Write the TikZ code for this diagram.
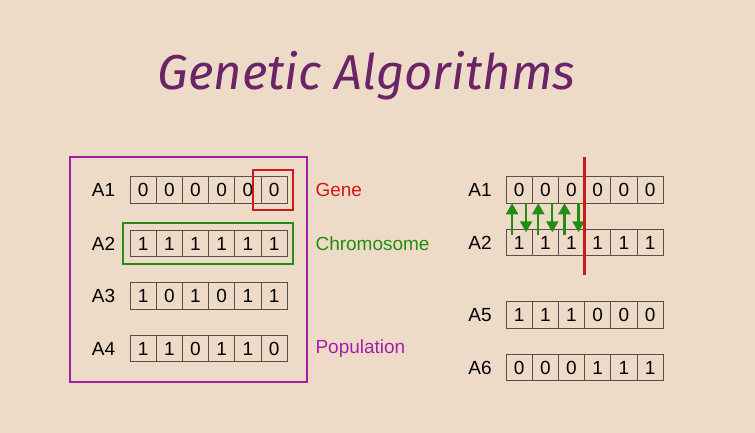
\documentclass[tikz,border=0pt]{standalone}
\usepackage{fontspec}
\setmainfont{Liberation Sans}
\newfontfamily\titlefont{Fira Sans}
\usetikzlibrary{arrows.meta}

\definecolor{bgtan}{RGB}{238,219,199}
\definecolor{titleplum}{RGB}{107,36,102}
\definecolor{popviolet}{RGB}{165,30,170}
\definecolor{genered}{RGB}{205,25,25}
\definecolor{chromgreen}{RGB}{35,140,20}
\definecolor{cellgray}{RGB}{85,80,75}

\tikzset{
    gene/.style={draw=cellgray, line width=0.9pt, minimum width=26.2pt,
        minimum height=26.5pt, inner sep=0pt, outer sep=0pt,
        font=\fontsize{19}{19}\selectfont},
    rowlabel/.style={font=\fontsize{19}{19}\selectfont},
    tag/.style={anchor=west, font=\fontsize{19}{19}\selectfont},
    swaparrow/.style={chromgreen, line width=2.2pt, -{Triangle[width=12pt,length=11pt]}}
}

\begin{document}
\begin{tikzpicture}[x=1pt,y=-1pt]
\fill[bgtan] (0,0) rectangle (755,433);
\useasboundingbox (0,0) rectangle (755,433);

\node[anchor=base, text=titleplum, font=\titlefont\itshape\fontsize{49}{49}\selectfont]
    (title) at (366.5,90) {Genetic Algorithms};

% population on the left
\foreach \lab/\yc/\bits [count=\r] in {A1/190/{0,0,0,0,0,0}, A2/243.5/{1,1,1,1,1,1},
        A3/296/{1,0,1,0,1,1}, A4/348.5/{1,1,0,1,1,0}} {
    \node[rowlabel] (lab\r) at (103.5,\yc) {\lab};
    \foreach \b [count=\c] in \bits
        \node[gene] (L\r-\c) at ({130+26.2*(\c-0.5)},\yc) {\b};
}

\draw[genered, line width=2pt] ([shift={(-8pt,7pt)}]L1-6.north west)
    rectangle ([shift={(6pt,-7pt)}]L1-6.south east);
\draw[chromgreen, line width=2pt] ([shift={(-7pt,7pt)}]L2-1.north west)
    rectangle ([shift={(6pt,-7pt)}]L2-6.south east);
\draw[popviolet, line width=2pt] (70,157) rectangle (306.5,381.5);

\node[tag, text=genered] (gene) at (312,190) {Gene};
\node[tag, text=chromgreen] (chrom) at (312,243.5) {Chromosome};
\node[tag, text=popviolet] (pop) at (312,348.5) {Population};

% crossover on the right
\foreach \lab/\yc/\bits [count=\r] in {A1/190/{0,0,0,0,0,0}, A2/242.5/{1,1,1,1,1,1},
        A5/315/{1,1,1,0,0,0}, A6/367.5/{0,0,0,1,1,1}} {
    \node[rowlabel] (rlab\r) at (480,\yc) {\lab};
    \foreach \b [count=\c] in \bits
        \node[gene] (R\r-\c) at ({506+26.2*(\c-0.5)},\yc) {\b};
}

\foreach \c in {1,2,3} {
    \draw[swaparrow] ([shift={(-7pt,-6pt)}]R2-\c.north) -- ([xshift=-7pt]R1-\c.south);
    \draw[swaparrow] ([xshift=7pt]R1-\c.south) -- ([shift={(7pt,-3pt)}]R2-\c.north);
}
\draw[genered, line width=2.4pt] ([yshift=20pt]R1-3.north east) -- ([yshift=-19pt]R2-3.south east);
\end{tikzpicture}
\end{document}
